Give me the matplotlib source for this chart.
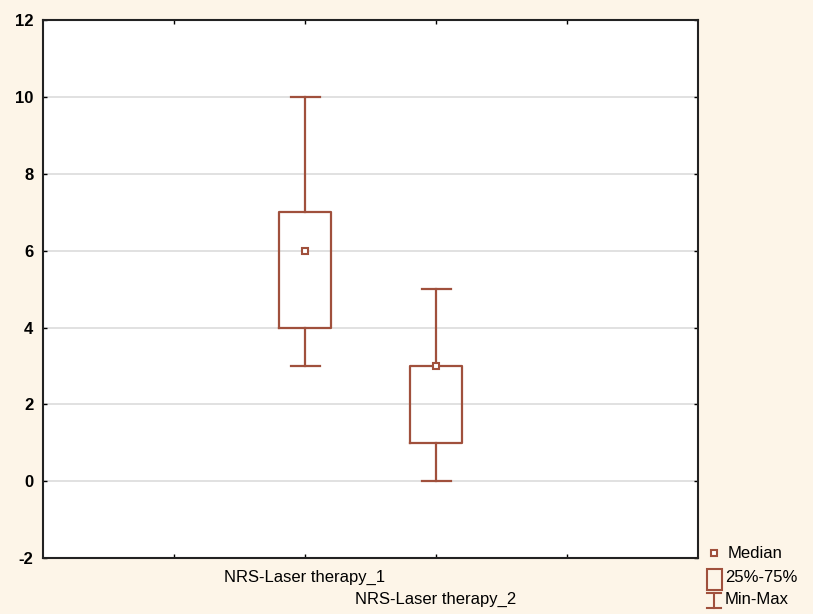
import matplotlib.pyplot as plt
from matplotlib.patches import Rectangle
from matplotlib.lines import Line2D

plt.rcParams['font.family'] = ['Liberation Sans', 'DejaVu Sans']

labels = ['NRS-Laser therapy_1', 'NRS-Laser therapy_2']
medians = [6, 3]
q1 = [4, 1]
q3 = [7, 3]
mins = [3, 0]
maxs = [10, 5]

BOX_COLOR = '#a0503c'
BG = '#fdf5e8'
FS = 12

fig = plt.figure(figsize=(8.13, 6.14), dpi=100, facecolor=BG)
ax = fig.add_axes([0.053, 0.091, 0.806, 0.876])

stats = []
for i in range(len(labels)):
    stats.append(dict(med=medians[i], q1=q1[i], q3=q3[i],
                      whislo=mins[i], whishi=maxs[i], label=labels[i]))

pos = [1, 2]
ax.bxp(stats, positions=pos, widths=0.4, showfliers=False,
       boxprops=dict(color=BOX_COLOR, linewidth=1.6),
       whiskerprops=dict(color=BOX_COLOR, linewidth=1.6),
       capprops=dict(color=BOX_COLOR, linewidth=1.6),
       medianprops=dict(linewidth=0), capwidths=0.22, zorder=3)
ax.plot(pos, medians, ls='none', marker='s', markersize=5, markerfacecolor='white',
        markeredgecolor=BOX_COLOR, markeredgewidth=1.5, zorder=4)

ax.set_xlim(-1, 4)
ax.set_ylim(-2, 12)
ax.set_yticks(range(-2, 13, 2))
ax.set_yticklabels([str(v) for v in range(-2, 13, 2)], fontsize=FS, fontweight='bold')
ax.set_xticks([0, 1, 2, 3])
ax.set_xticklabels([])
ax.tick_params(axis='both', direction='in', length=3, width=1, top=True, right=True)
ax.tick_params(axis='y', pad=7)
ax.yaxis.grid(True, color='#dcdcdc', linewidth=1.2, zorder=0)
ax.set_axisbelow(True)
for s in ax.spines.values():
    s.set_linewidth(1.5)
    s.set_color('#222222')

# staggered category labels
fig.text(305 / 813, 1 - 577 / 614, labels[0], ha='center', va='center', fontsize=FS)
fig.text(436 / 813, 1 - 599 / 614, labels[1], ha='center', va='center', fontsize=FS)

# legend drawn by hand
fig.add_artist(Line2D([714 / 813], [1 - 553 / 614], marker='s', markersize=5, ls='none',
                      markerfacecolor='white', markeredgecolor=BOX_COLOR, markeredgewidth=1.5))
fig.text(728 / 813, 1 - 553 / 614, 'Median', va='center', fontsize=FS)
fig.add_artist(Rectangle((707 / 813, 1 - 590 / 614), 15 / 813, 21 / 614, fill=False,
                         edgecolor=BOX_COLOR, linewidth=1.5, transform=fig.transFigure))
fig.text(725 / 813, 1 - 578 / 614, '25%-75%', va='center', fontsize=FS)
fig.add_artist(Line2D([714 / 813, 714 / 813], [1 - 593 / 614, 1 - 608 / 614], color=BOX_COLOR, lw=1.5))
fig.add_artist(Line2D([707 / 813, 721 / 813], [1 - 593 / 614, 1 - 593 / 614], color=BOX_COLOR, lw=1.5))
fig.add_artist(Line2D([707 / 813, 721 / 813], [1 - 608 / 614, 1 - 608 / 614], color=BOX_COLOR, lw=1.5))
fig.text(725 / 813, 1 - 600 / 614, 'Min-Max', va='center', fontsize=FS)

plt.savefig('out.png', dpi=100, facecolor=BG)
